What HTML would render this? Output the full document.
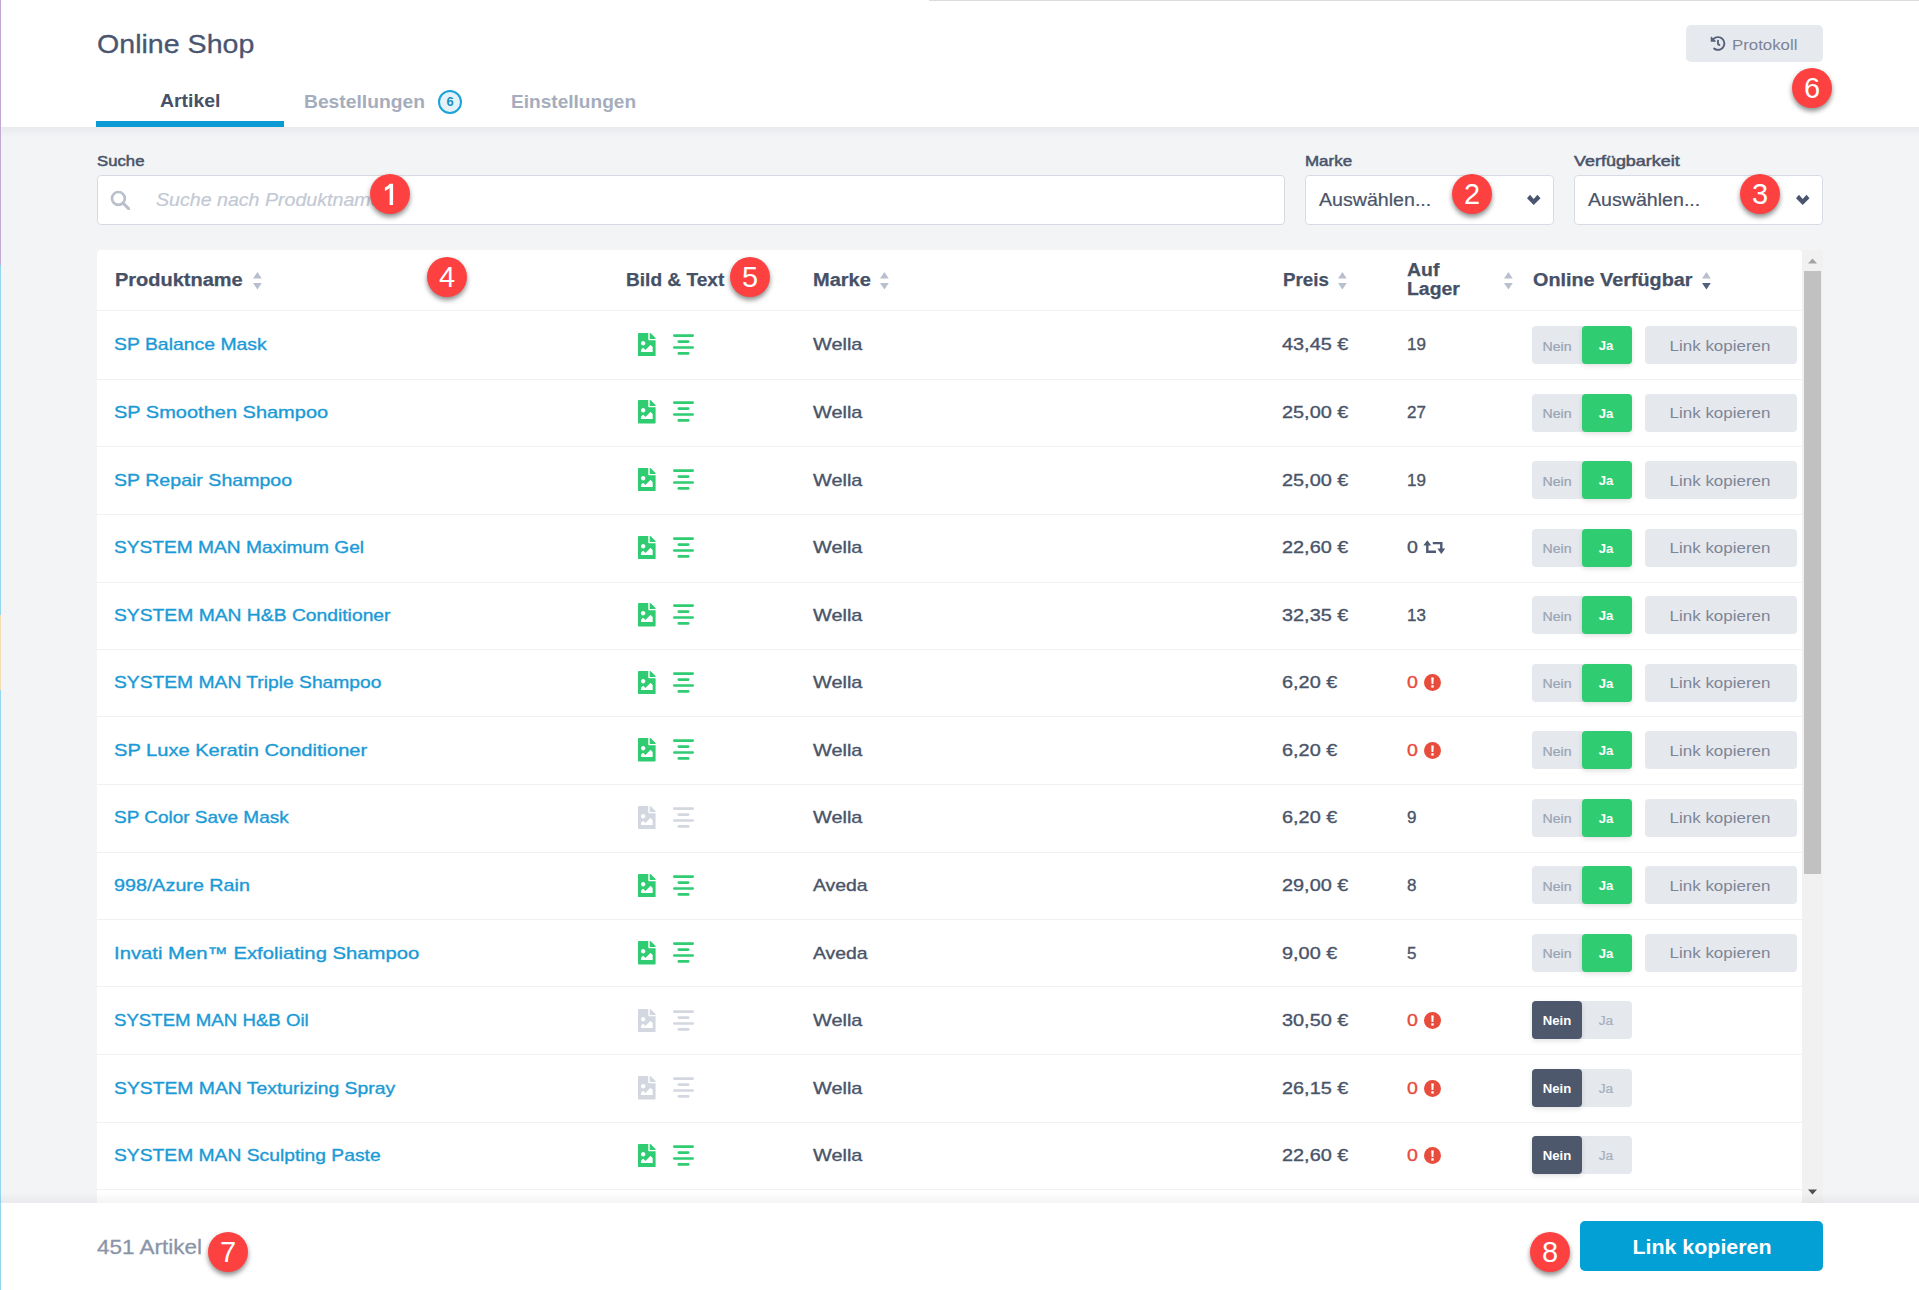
<!DOCTYPE html>
<html><head><meta charset="utf-8"><title>Online Shop</title>
<style>
html,body{margin:0;padding:0}
body{width:1919px;height:1290px;overflow:hidden;position:relative;background:#fff;font-family:"Liberation Sans",sans-serif}
.t{position:absolute;white-space:nowrap}
.r{position:absolute}
.badge{position:absolute;width:40px;height:40px;border-radius:50%;background:#fd4141;color:#fff;font:29px/40px "Liberation Sans",sans-serif;text-align:center;box-shadow:0 3px 5px rgba(0,0,0,0.45)}
</style></head><body>
<div class="r" style="left:0px;top:0px;width:1919px;height:127px;background:#ffffff;"></div>
<div class="r" style="left:0px;top:127px;width:1919px;height:1076px;background:#f3f4f6;"></div>
<div class="r" style="left:0px;top:127px;width:1919px;height:10px;background:linear-gradient(#e9eaed,#f3f4f6);"></div>
<div class="r" style="left:0px;top:1203px;width:1919px;height:87px;background:#ffffff;"></div>
<div class="r" style="left:0px;top:0px;width:1px;height:265px;background:#c2a9d5;"></div>
<div class="r" style="left:0px;top:265px;width:1px;height:350px;background:#94d5f0;"></div>
<div class="r" style="left:0px;top:615px;width:1px;height:75px;background:#f5dcb2;"></div>
<div class="r" style="left:0px;top:690px;width:1px;height:600px;background:#94d5f0;"></div>
<div class="r" style="left:929px;top:0px;width:990px;height:1px;background:#dcdcdc;"></div>
<div class="t" style="left:97px;top:30.69px;font-size:26px;line-height:26px;color:#4a5670;font-weight:normal;font-style:normal;letter-spacing:0px;transform:scaleX(1.1);transform-origin:0 0;-webkit-text-stroke:0.3px #4a5670;">Online Shop</div>
<div class="t" style="left:160px;top:92.46px;font-size:18px;line-height:18px;color:#465066;font-weight:bold;font-style:normal;letter-spacing:0px;transform:scaleX(1.08);transform-origin:0 0;">Artikel</div>
<div class="r" style="left:96px;top:121px;width:188px;height:6px;background:#0a9bd5;"></div>
<div class="t" style="left:303.5px;top:92.56px;font-size:18px;line-height:18px;color:#a5adbd;font-weight:bold;font-style:normal;letter-spacing:0px;transform:scaleX(1.07);transform-origin:0 0;">Bestellungen</div>
<div class="r" style="left:438px;top:90px;width:20px;height:20px;border:2px solid #1ba3d9;border-radius:50%;background:#e4f2f9;font:bold 13px/20px 'Liberation Sans',sans-serif;color:#1b8fc4;text-align:center">6</div>
<div class="t" style="left:511px;top:92.56px;font-size:18px;line-height:18px;color:#a5adbd;font-weight:bold;font-style:normal;letter-spacing:0px;transform:scaleX(1.06);transform-origin:0 0;">Einstellungen</div>
<div class="r" style="left:1686px;top:25px;width:137px;height:37px;background:#e6e9ee;border-radius:5px"></div>
<svg class="r" style="left:1710px;top:36px" width="16" height="15" viewBox="0 0 512 512"><path fill="#55607a" d="M504 255.531c.253 136.64-111.18 248.372-247.82 248.468-59.015.042-113.223-20.53-155.822-54.911-11.077-8.94-11.905-25.541-1.839-35.607l11.267-11.267c8.609-8.609 22.353-9.551 31.891-1.984C173.062 425.135 212.781 440 256 440c101.705 0 184-82.311 184-184 0-101.705-82.311-184-184-184-48.814 0-93.149 18.969-126.068 49.932l50.754 50.754c10.08 10.08 2.941 27.314-11.313 27.314H24c-8.837 0-16-7.163-16-16V38.627c0-14.254 17.234-21.393 27.314-11.314l49.372 49.372C129.209 34.136 189.552 8 256 8c136.81 0 247.747 110.78 248 247.531zm-180.912 78.784l9.823-12.63c8.138-10.463 6.253-25.542-4.21-33.679L288 256.349V152c0-13.255-10.745-24-24-24h-16c-13.255 0-24 10.745-24 24v135.651l65.409 50.874c10.463 8.137 25.541 6.253 33.679-4.21z"/></svg>
<div class="t" style="left:1732px;top:36.90px;font-size:15px;line-height:15px;color:#7b8497;font-weight:normal;font-style:normal;letter-spacing:0px;transform:scaleX(1.12);transform-origin:0 0;">Protokoll</div>
<div class="t" style="left:97px;top:154.20px;font-size:14.3px;line-height:14.3px;color:#4a5469;font-weight:normal;font-style:normal;letter-spacing:0px;transform:scaleX(1.17);transform-origin:0 0;-webkit-text-stroke:0.5px #4a5469;">Suche</div>
<div class="r" style="left:97px;top:175px;width:1188px;height:50px;background:#ffffff;border:1px solid #d5dae3;border-radius:4px;box-sizing:border-box"></div>
<svg class="r" style="left:110px;top:190px" width="20" height="20" viewBox="0 0 20 20"><circle cx="8.4" cy="8.4" r="6.4" fill="none" stroke="#b9c0cc" stroke-width="2.7"/><path d="M13.2 13.2 L18.6 18.6" stroke="#b9c0cc" stroke-width="3" stroke-linecap="round"/></svg>
<div class="t" style="left:156px;top:192.49px;font-size:17.5px;line-height:17.5px;color:#c3c9d4;font-weight:normal;font-style:italic;letter-spacing:0px;transform:scaleX(1.12);transform-origin:0 0;-webkit-text-stroke:0.2px #c3c9d4;">Suche nach Produktnamen</div>
<div class="t" style="left:1305px;top:154.10px;font-size:14.3px;line-height:14.3px;color:#4a5469;font-weight:normal;font-style:normal;letter-spacing:0px;transform:scaleX(1.185);transform-origin:0 0;-webkit-text-stroke:0.5px #4a5469;">Marke</div>
<div class="r" style="left:1305px;top:175px;width:249px;height:50px;background:#ffffff;border:1px solid #d7dce4;border-radius:4px;box-sizing:border-box"></div>
<div class="t" style="left:1319px;top:192.19px;font-size:17.5px;line-height:17.5px;color:#4a5469;font-weight:normal;font-style:normal;letter-spacing:0px;transform:scaleX(1.12);transform-origin:0 0;-webkit-text-stroke:0.2px #4a5469;">Auswählen...</div>
<svg class="r" style="left:1526.3px;top:194px" width="16" height="12" viewBox="0 0 16 12"><path d="M1 4.3L4 0.8L7.7 5L11.5 0.8L14.5 4.3L7.7 11Z" fill="#4a5670"/></svg>
<div class="t" style="left:1574px;top:154.10px;font-size:14.3px;line-height:14.3px;color:#4a5469;font-weight:normal;font-style:normal;letter-spacing:0px;transform:scaleX(1.255);transform-origin:0 0;-webkit-text-stroke:0.5px #4a5469;">Verfügbarkeit</div>
<div class="r" style="left:1574px;top:175px;width:249px;height:50px;background:#ffffff;border:1px solid #d7dce4;border-radius:4px;box-sizing:border-box"></div>
<div class="t" style="left:1588px;top:192.19px;font-size:17.5px;line-height:17.5px;color:#4a5469;font-weight:normal;font-style:normal;letter-spacing:0px;transform:scaleX(1.12);transform-origin:0 0;-webkit-text-stroke:0.2px #4a5469;">Auswählen...</div>
<svg class="r" style="left:1795.3px;top:194px" width="16" height="12" viewBox="0 0 16 12"><path d="M1 4.3L4 0.8L7.7 5L11.5 0.8L14.5 4.3L7.7 11Z" fill="#4a5670"/></svg>
<div class="r" style="left:97px;top:250px;width:1705px;height:953px;background:#ffffff;border-radius:4px 4px 0 0"></div>
<div class="r" style="left:1802px;top:250px;width:21px;height:953px;background:#f1f1f1;"></div>
<div class="r" style="left:1804px;top:271px;width:17px;height:603px;background:#c1c1c1;"></div>
<svg class="r" style="left:1808px;top:258px" width="9" height="6" viewBox="0 0 9 6"><path d="M0 5.5 L4.5 0.5 L9 5.5Z" fill="#a3a3a3"/></svg>
<svg class="r" style="left:1808px;top:1188.8px" width="9" height="6" viewBox="0 0 9 6"><path d="M0 0.5 L4.5 5.5 L9 0.5Z" fill="#505050"/></svg>
<div class="t" style="left:115px;top:271.06px;font-size:18px;line-height:18px;color:#465066;font-weight:bold;font-style:normal;letter-spacing:0px;transform:scaleX(1.11);transform-origin:0 0;-webkit-text-stroke:0.25px #465066;">Produktname</div>
<svg class="r" style="left:252.9px;top:272.4px" width="10" height="18" viewBox="0 0 10 18"><path d="M0 6.6 L4.4 0 L8.8 6.6Z" fill="#b9c0cd"/><path d="M0 11.1 L4.4 17.6 L8.8 11.1Z" fill="#b9c0cd"/></svg>
<div class="t" style="left:626px;top:271.06px;font-size:18px;line-height:18px;color:#465066;font-weight:bold;font-style:normal;letter-spacing:0px;transform:scaleX(1.06);transform-origin:0 0;-webkit-text-stroke:0.25px #465066;">Bild &amp; Text</div>
<div class="t" style="left:813px;top:271.06px;font-size:18px;line-height:18px;color:#465066;font-weight:bold;font-style:normal;letter-spacing:0px;transform:scaleX(1.11);transform-origin:0 0;-webkit-text-stroke:0.25px #465066;">Marke</div>
<svg class="r" style="left:879.8px;top:272.4px" width="10" height="18" viewBox="0 0 10 18"><path d="M0 6.6 L4.4 0 L8.8 6.6Z" fill="#b9c0cd"/><path d="M0 11.1 L4.4 17.6 L8.8 11.1Z" fill="#b9c0cd"/></svg>
<div class="t" style="left:1283px;top:271.06px;font-size:18px;line-height:18px;color:#465066;font-weight:bold;font-style:normal;letter-spacing:0px;transform:scaleX(1.04);transform-origin:0 0;-webkit-text-stroke:0.25px #465066;">Preis</div>
<svg class="r" style="left:1337.8px;top:272.4px" width="10" height="18" viewBox="0 0 10 18"><path d="M0 6.6 L4.4 0 L8.8 6.6Z" fill="#b9c0cd"/><path d="M0 11.1 L4.4 17.6 L8.8 11.1Z" fill="#b9c0cd"/></svg>
<div class="t" style="left:1407px;top:260.76px;font-size:18px;line-height:18px;color:#465066;font-weight:bold;font-style:normal;letter-spacing:0px;transform:scaleX(1.08);transform-origin:0 0;-webkit-text-stroke:0.25px #465066;">Auf</div>
<div class="t" style="left:1407px;top:280.36px;font-size:18px;line-height:18px;color:#465066;font-weight:bold;font-style:normal;letter-spacing:0px;transform:scaleX(1.08);transform-origin:0 0;-webkit-text-stroke:0.25px #465066;">Lager</div>
<svg class="r" style="left:1504.4px;top:272.4px" width="10" height="18" viewBox="0 0 10 18"><path d="M0 6.6 L4.4 0 L8.8 6.6Z" fill="#b9c0cd"/><path d="M0 11.1 L4.4 17.6 L8.8 11.1Z" fill="#b9c0cd"/></svg>
<div class="t" style="left:1532.5px;top:271.06px;font-size:18px;line-height:18px;color:#465066;font-weight:bold;font-style:normal;letter-spacing:0px;transform:scaleX(1.1);transform-origin:0 0;-webkit-text-stroke:0.25px #465066;">Online Verfügbar</div>
<svg class="r" style="left:1701.6px;top:272.4px" width="10" height="18" viewBox="0 0 10 18"><path d="M0 6.6 L4.4 0 L8.8 6.6Z" fill="#b9c0cd"/><path d="M0 11.1 L4.4 17.6 L8.8 11.1Z" fill="#55607a"/></svg>
<div class="r" style="left:97px;top:310px;width:1705px;height:1px;background:#f0f1f4;"></div>
<div class="t" style="left:114.2px;top:335.81px;font-size:17px;line-height:17px;color:#1b9ad6;font-weight:normal;font-style:normal;letter-spacing:0px;transform:scaleX(1.1411);transform-origin:0 0;-webkit-text-stroke:0.35px #1b9ad6;">SP Balance Mask</div>
<svg class="r" style="left:638px;top:332.70px" width="17.6" height="23.5" viewBox="0 0 384 512"><path fill="#2fcc71" d="M384 121.941V128H256V0h6.059a24 24 0 0 1 16.97 7.029l97.941 97.941a24.002 24.002 0 0 1 7.03 16.971zM248 160c-13.2 0-24-10.8-24-24V0H24C10.745 0 0 10.745 0 24v464c0 13.255 10.745 24 24 24h336c13.255 0 24-10.745 24-24V160H248zm-135.455 16c26.51 0 48 21.49 48 48s-21.49 48-48 48-48-21.49-48-48 21.491-48 48-48zm208 240h-256l.485-48.485L104.545 328c4.686-4.686 11.799-4.201 16.485.485L160.545 368 264.06 264.485c4.686-4.686 12.284-4.686 16.971 0L320.545 304v112z"/></svg>
<svg class="r" style="left:673px;top:333.80px" width="21" height="21" viewBox="0 0 21 21"><g stroke="#2fcc71" stroke-width="2.6" stroke-linecap="round"><path d="M1.3 1.6H19.7"/><path d="M5.8 7.6H15.2"/><path d="M1.3 13.5H19.7"/><path d="M5.8 19.4H15.2"/></g></svg>
<div class="t" style="left:813px;top:335.81px;font-size:17px;line-height:17px;color:#4a5469;font-weight:normal;font-style:normal;letter-spacing:0px;transform:scaleX(1.17);transform-origin:0 0;-webkit-text-stroke:0.35px #4a5469;">Wella</div>
<div class="t" style="left:1282px;top:335.81px;font-size:17px;line-height:17px;color:#4a5469;font-weight:normal;font-style:normal;letter-spacing:0px;transform:scaleX(1.17);transform-origin:0 0;-webkit-text-stroke:0.35px #4a5469;">43,45 €</div>
<div class="t" style="left:1407px;top:335.81px;font-size:17px;line-height:17px;color:#4a5469;font-weight:normal;font-style:normal;letter-spacing:0px;-webkit-text-stroke:0.35px #4a5469;">19</div>
<div class="r" style="left:1532px;top:326.2px;width:100px;height:38.0px;background:#e5e8ed;border-radius:4px"></div>
<div class="r" style="left:1582px;top:326.2px;width:50px;height:38.0px;background:#2fcc71;border-radius:4px;box-shadow:0 2px 5px rgba(0,0,0,0.12)"></div>
<div class="t" style="left:1457px;width:200px;text-align:center;top:340.62px;font-size:12.5px;line-height:12.5px;color:#9aa3b4;font-weight:normal;font-style:normal;letter-spacing:0px;-webkit-text-stroke:0.2px #9aa3b4;transform:scaleX(1.13);transform-origin:50% 0;">Nein</div>
<div class="t" style="left:1505.8px;width:200px;text-align:center;top:340.42px;font-size:12.5px;line-height:12.5px;color:#ffffff;font-weight:bold;font-style:normal;letter-spacing:0px;transform:scaleX(1.05);transform-origin:50% 0;">Ja</div>
<div class="r" style="left:1645px;top:326.2px;width:152px;height:38.0px;background:#e5e8ed;border-radius:4px"></div>
<div class="t" style="left:1620.3px;width:200px;text-align:center;top:337.90px;font-size:15px;line-height:15px;color:#7d8596;font-weight:normal;font-style:normal;letter-spacing:0px;transform:scaleX(1.13);transform-origin:50% 0;">Link kopieren</div>
<div class="r" style="left:97px;top:379px;width:1705px;height:1px;background:#f0f1f4;"></div>
<div class="t" style="left:114.2px;top:403.98px;font-size:17px;line-height:17px;color:#1b9ad6;font-weight:normal;font-style:normal;letter-spacing:0px;transform:scaleX(1.176);transform-origin:0 0;-webkit-text-stroke:0.35px #1b9ad6;">SP Smoothen Shampoo</div>
<svg class="r" style="left:638px;top:400.30px" width="17.6" height="23.5" viewBox="0 0 384 512"><path fill="#2fcc71" d="M384 121.941V128H256V0h6.059a24 24 0 0 1 16.97 7.029l97.941 97.941a24.002 24.002 0 0 1 7.03 16.971zM248 160c-13.2 0-24-10.8-24-24V0H24C10.745 0 0 10.745 0 24v464c0 13.255 10.745 24 24 24h336c13.255 0 24-10.745 24-24V160H248zm-135.455 16c26.51 0 48 21.49 48 48s-21.49 48-48 48-48-21.49-48-48 21.491-48 48-48zm208 240h-256l.485-48.485L104.545 328c4.686-4.686 11.799-4.201 16.485.485L160.545 368 264.06 264.485c4.686-4.686 12.284-4.686 16.971 0L320.545 304v112z"/></svg>
<svg class="r" style="left:673px;top:401.40px" width="21" height="21" viewBox="0 0 21 21"><g stroke="#2fcc71" stroke-width="2.6" stroke-linecap="round"><path d="M1.3 1.6H19.7"/><path d="M5.8 7.6H15.2"/><path d="M1.3 13.5H19.7"/><path d="M5.8 19.4H15.2"/></g></svg>
<div class="t" style="left:813px;top:403.98px;font-size:17px;line-height:17px;color:#4a5469;font-weight:normal;font-style:normal;letter-spacing:0px;transform:scaleX(1.17);transform-origin:0 0;-webkit-text-stroke:0.35px #4a5469;">Wella</div>
<div class="t" style="left:1282px;top:403.98px;font-size:17px;line-height:17px;color:#4a5469;font-weight:normal;font-style:normal;letter-spacing:0px;transform:scaleX(1.17);transform-origin:0 0;-webkit-text-stroke:0.35px #4a5469;">25,00 €</div>
<div class="t" style="left:1407px;top:403.98px;font-size:17px;line-height:17px;color:#4a5469;font-weight:normal;font-style:normal;letter-spacing:0px;-webkit-text-stroke:0.35px #4a5469;">27</div>
<div class="r" style="left:1532px;top:393.7px;width:100px;height:38.0px;background:#e5e8ed;border-radius:4px"></div>
<div class="r" style="left:1582px;top:393.7px;width:50px;height:38.0px;background:#2fcc71;border-radius:4px;box-shadow:0 2px 5px rgba(0,0,0,0.12)"></div>
<div class="t" style="left:1457px;width:200px;text-align:center;top:408.12px;font-size:12.5px;line-height:12.5px;color:#9aa3b4;font-weight:normal;font-style:normal;letter-spacing:0px;-webkit-text-stroke:0.2px #9aa3b4;transform:scaleX(1.13);transform-origin:50% 0;">Nein</div>
<div class="t" style="left:1505.8px;width:200px;text-align:center;top:407.92px;font-size:12.5px;line-height:12.5px;color:#ffffff;font-weight:bold;font-style:normal;letter-spacing:0px;transform:scaleX(1.05);transform-origin:50% 0;">Ja</div>
<div class="r" style="left:1645px;top:393.7px;width:152px;height:38.0px;background:#e5e8ed;border-radius:4px"></div>
<div class="t" style="left:1620.3px;width:200px;text-align:center;top:405.40px;font-size:15px;line-height:15px;color:#7d8596;font-weight:normal;font-style:normal;letter-spacing:0px;transform:scaleX(1.13);transform-origin:50% 0;">Link kopieren</div>
<div class="r" style="left:97px;top:446px;width:1705px;height:1px;background:#f0f1f4;"></div>
<div class="t" style="left:114.2px;top:471.56px;font-size:17px;line-height:17px;color:#1b9ad6;font-weight:normal;font-style:normal;letter-spacing:0px;transform:scaleX(1.1518);transform-origin:0 0;-webkit-text-stroke:0.35px #1b9ad6;">SP Repair Shampoo</div>
<svg class="r" style="left:638px;top:467.90px" width="17.6" height="23.5" viewBox="0 0 384 512"><path fill="#2fcc71" d="M384 121.941V128H256V0h6.059a24 24 0 0 1 16.97 7.029l97.941 97.941a24.002 24.002 0 0 1 7.03 16.971zM248 160c-13.2 0-24-10.8-24-24V0H24C10.745 0 0 10.745 0 24v464c0 13.255 10.745 24 24 24h336c13.255 0 24-10.745 24-24V160H248zm-135.455 16c26.51 0 48 21.49 48 48s-21.49 48-48 48-48-21.49-48-48 21.491-48 48-48zm208 240h-256l.485-48.485L104.545 328c4.686-4.686 11.799-4.201 16.485.485L160.545 368 264.06 264.485c4.686-4.686 12.284-4.686 16.971 0L320.545 304v112z"/></svg>
<svg class="r" style="left:673px;top:469.00px" width="21" height="21" viewBox="0 0 21 21"><g stroke="#2fcc71" stroke-width="2.6" stroke-linecap="round"><path d="M1.3 1.6H19.7"/><path d="M5.8 7.6H15.2"/><path d="M1.3 13.5H19.7"/><path d="M5.8 19.4H15.2"/></g></svg>
<div class="t" style="left:813px;top:471.56px;font-size:17px;line-height:17px;color:#4a5469;font-weight:normal;font-style:normal;letter-spacing:0px;transform:scaleX(1.17);transform-origin:0 0;-webkit-text-stroke:0.35px #4a5469;">Wella</div>
<div class="t" style="left:1282px;top:471.56px;font-size:17px;line-height:17px;color:#4a5469;font-weight:normal;font-style:normal;letter-spacing:0px;transform:scaleX(1.17);transform-origin:0 0;-webkit-text-stroke:0.35px #4a5469;">25,00 €</div>
<div class="t" style="left:1407px;top:471.56px;font-size:17px;line-height:17px;color:#4a5469;font-weight:normal;font-style:normal;letter-spacing:0px;-webkit-text-stroke:0.35px #4a5469;">19</div>
<div class="r" style="left:1532px;top:461.2px;width:100px;height:38.0px;background:#e5e8ed;border-radius:4px"></div>
<div class="r" style="left:1582px;top:461.2px;width:50px;height:38.0px;background:#2fcc71;border-radius:4px;box-shadow:0 2px 5px rgba(0,0,0,0.12)"></div>
<div class="t" style="left:1457px;width:200px;text-align:center;top:475.62px;font-size:12.5px;line-height:12.5px;color:#9aa3b4;font-weight:normal;font-style:normal;letter-spacing:0px;-webkit-text-stroke:0.2px #9aa3b4;transform:scaleX(1.13);transform-origin:50% 0;">Nein</div>
<div class="t" style="left:1505.8px;width:200px;text-align:center;top:475.42px;font-size:12.5px;line-height:12.5px;color:#ffffff;font-weight:bold;font-style:normal;letter-spacing:0px;transform:scaleX(1.05);transform-origin:50% 0;">Ja</div>
<div class="r" style="left:1645px;top:461.2px;width:152px;height:38.0px;background:#e5e8ed;border-radius:4px"></div>
<div class="t" style="left:1620.3px;width:200px;text-align:center;top:472.90px;font-size:15px;line-height:15px;color:#7d8596;font-weight:normal;font-style:normal;letter-spacing:0px;transform:scaleX(1.13);transform-origin:50% 0;">Link kopieren</div>
<div class="r" style="left:97px;top:514px;width:1705px;height:1px;background:#f0f1f4;"></div>
<div class="t" style="left:114.2px;top:539.13px;font-size:17px;line-height:17px;color:#1b9ad6;font-weight:normal;font-style:normal;letter-spacing:0px;transform:scaleX(1.1267);transform-origin:0 0;-webkit-text-stroke:0.35px #1b9ad6;">SYSTEM MAN Maximum Gel</div>
<svg class="r" style="left:638px;top:535.50px" width="17.6" height="23.5" viewBox="0 0 384 512"><path fill="#2fcc71" d="M384 121.941V128H256V0h6.059a24 24 0 0 1 16.97 7.029l97.941 97.941a24.002 24.002 0 0 1 7.03 16.971zM248 160c-13.2 0-24-10.8-24-24V0H24C10.745 0 0 10.745 0 24v464c0 13.255 10.745 24 24 24h336c13.255 0 24-10.745 24-24V160H248zm-135.455 16c26.51 0 48 21.49 48 48s-21.49 48-48 48-48-21.49-48-48 21.491-48 48-48zm208 240h-256l.485-48.485L104.545 328c4.686-4.686 11.799-4.201 16.485.485L160.545 368 264.06 264.485c4.686-4.686 12.284-4.686 16.971 0L320.545 304v112z"/></svg>
<svg class="r" style="left:673px;top:536.60px" width="21" height="21" viewBox="0 0 21 21"><g stroke="#2fcc71" stroke-width="2.6" stroke-linecap="round"><path d="M1.3 1.6H19.7"/><path d="M5.8 7.6H15.2"/><path d="M1.3 13.5H19.7"/><path d="M5.8 19.4H15.2"/></g></svg>
<div class="t" style="left:813px;top:539.13px;font-size:17px;line-height:17px;color:#4a5469;font-weight:normal;font-style:normal;letter-spacing:0px;transform:scaleX(1.17);transform-origin:0 0;-webkit-text-stroke:0.35px #4a5469;">Wella</div>
<div class="t" style="left:1282px;top:539.13px;font-size:17px;line-height:17px;color:#4a5469;font-weight:normal;font-style:normal;letter-spacing:0px;transform:scaleX(1.17);transform-origin:0 0;-webkit-text-stroke:0.35px #4a5469;">22,60 €</div>
<div class="t" style="left:1407px;top:539.13px;font-size:17px;line-height:17px;color:#4a5469;font-weight:normal;font-style:normal;letter-spacing:0px;transform:scaleX(1.15);transform-origin:0 0;-webkit-text-stroke:0.35px #4a5469;">0</div>
<svg class="r" style="left:1423px;top:540.30px" width="23" height="14" viewBox="0 0 23 14"><g fill="none" stroke="#4f5b73" stroke-width="2.4"><path d="M4.3 4V11.7H13"/><path d="M9.8 3.1H18.3V9.5"/></g><path d="M0.3 5.6L4.3 0.2L8.3 5.6Z" fill="#4f5b73"/><path d="M14.3 8.6L18.3 14L22.3 8.6Z" fill="#4f5b73"/></svg>
<div class="r" style="left:1532px;top:528.7px;width:100px;height:38.0px;background:#e5e8ed;border-radius:4px"></div>
<div class="r" style="left:1582px;top:528.7px;width:50px;height:38.0px;background:#2fcc71;border-radius:4px;box-shadow:0 2px 5px rgba(0,0,0,0.12)"></div>
<div class="t" style="left:1457px;width:200px;text-align:center;top:543.12px;font-size:12.5px;line-height:12.5px;color:#9aa3b4;font-weight:normal;font-style:normal;letter-spacing:0px;-webkit-text-stroke:0.2px #9aa3b4;transform:scaleX(1.13);transform-origin:50% 0;">Nein</div>
<div class="t" style="left:1505.8px;width:200px;text-align:center;top:542.92px;font-size:12.5px;line-height:12.5px;color:#ffffff;font-weight:bold;font-style:normal;letter-spacing:0px;transform:scaleX(1.05);transform-origin:50% 0;">Ja</div>
<div class="r" style="left:1645px;top:528.7px;width:152px;height:38.0px;background:#e5e8ed;border-radius:4px"></div>
<div class="t" style="left:1620.3px;width:200px;text-align:center;top:540.40px;font-size:15px;line-height:15px;color:#7d8596;font-weight:normal;font-style:normal;letter-spacing:0px;transform:scaleX(1.13);transform-origin:50% 0;">Link kopieren</div>
<div class="r" style="left:97px;top:582px;width:1705px;height:1px;background:#f0f1f4;"></div>
<div class="t" style="left:114.2px;top:606.71px;font-size:17px;line-height:17px;color:#1b9ad6;font-weight:normal;font-style:normal;letter-spacing:0px;transform:scaleX(1.1344);transform-origin:0 0;-webkit-text-stroke:0.35px #1b9ad6;">SYSTEM MAN H&amp;B Conditioner</div>
<svg class="r" style="left:638px;top:603.10px" width="17.6" height="23.5" viewBox="0 0 384 512"><path fill="#2fcc71" d="M384 121.941V128H256V0h6.059a24 24 0 0 1 16.97 7.029l97.941 97.941a24.002 24.002 0 0 1 7.03 16.971zM248 160c-13.2 0-24-10.8-24-24V0H24C10.745 0 0 10.745 0 24v464c0 13.255 10.745 24 24 24h336c13.255 0 24-10.745 24-24V160H248zm-135.455 16c26.51 0 48 21.49 48 48s-21.49 48-48 48-48-21.49-48-48 21.491-48 48-48zm208 240h-256l.485-48.485L104.545 328c4.686-4.686 11.799-4.201 16.485.485L160.545 368 264.06 264.485c4.686-4.686 12.284-4.686 16.971 0L320.545 304v112z"/></svg>
<svg class="r" style="left:673px;top:604.20px" width="21" height="21" viewBox="0 0 21 21"><g stroke="#2fcc71" stroke-width="2.6" stroke-linecap="round"><path d="M1.3 1.6H19.7"/><path d="M5.8 7.6H15.2"/><path d="M1.3 13.5H19.7"/><path d="M5.8 19.4H15.2"/></g></svg>
<div class="t" style="left:813px;top:606.71px;font-size:17px;line-height:17px;color:#4a5469;font-weight:normal;font-style:normal;letter-spacing:0px;transform:scaleX(1.17);transform-origin:0 0;-webkit-text-stroke:0.35px #4a5469;">Wella</div>
<div class="t" style="left:1282px;top:606.71px;font-size:17px;line-height:17px;color:#4a5469;font-weight:normal;font-style:normal;letter-spacing:0px;transform:scaleX(1.17);transform-origin:0 0;-webkit-text-stroke:0.35px #4a5469;">32,35 €</div>
<div class="t" style="left:1407px;top:606.71px;font-size:17px;line-height:17px;color:#4a5469;font-weight:normal;font-style:normal;letter-spacing:0px;-webkit-text-stroke:0.35px #4a5469;">13</div>
<div class="r" style="left:1532px;top:596.2px;width:100px;height:38.0px;background:#e5e8ed;border-radius:4px"></div>
<div class="r" style="left:1582px;top:596.2px;width:50px;height:38.0px;background:#2fcc71;border-radius:4px;box-shadow:0 2px 5px rgba(0,0,0,0.12)"></div>
<div class="t" style="left:1457px;width:200px;text-align:center;top:610.62px;font-size:12.5px;line-height:12.5px;color:#9aa3b4;font-weight:normal;font-style:normal;letter-spacing:0px;-webkit-text-stroke:0.2px #9aa3b4;transform:scaleX(1.13);transform-origin:50% 0;">Nein</div>
<div class="t" style="left:1505.8px;width:200px;text-align:center;top:610.42px;font-size:12.5px;line-height:12.5px;color:#ffffff;font-weight:bold;font-style:normal;letter-spacing:0px;transform:scaleX(1.05);transform-origin:50% 0;">Ja</div>
<div class="r" style="left:1645px;top:596.2px;width:152px;height:38.0px;background:#e5e8ed;border-radius:4px"></div>
<div class="t" style="left:1620.3px;width:200px;text-align:center;top:607.90px;font-size:15px;line-height:15px;color:#7d8596;font-weight:normal;font-style:normal;letter-spacing:0px;transform:scaleX(1.13);transform-origin:50% 0;">Link kopieren</div>
<div class="r" style="left:97px;top:649px;width:1705px;height:1px;background:#f0f1f4;"></div>
<div class="t" style="left:114.2px;top:674.28px;font-size:17px;line-height:17px;color:#1b9ad6;font-weight:normal;font-style:normal;letter-spacing:0px;transform:scaleX(1.1324);transform-origin:0 0;-webkit-text-stroke:0.35px #1b9ad6;">SYSTEM MAN Triple Shampoo</div>
<svg class="r" style="left:638px;top:670.70px" width="17.6" height="23.5" viewBox="0 0 384 512"><path fill="#2fcc71" d="M384 121.941V128H256V0h6.059a24 24 0 0 1 16.97 7.029l97.941 97.941a24.002 24.002 0 0 1 7.03 16.971zM248 160c-13.2 0-24-10.8-24-24V0H24C10.745 0 0 10.745 0 24v464c0 13.255 10.745 24 24 24h336c13.255 0 24-10.745 24-24V160H248zm-135.455 16c26.51 0 48 21.49 48 48s-21.49 48-48 48-48-21.49-48-48 21.491-48 48-48zm208 240h-256l.485-48.485L104.545 328c4.686-4.686 11.799-4.201 16.485.485L160.545 368 264.06 264.485c4.686-4.686 12.284-4.686 16.971 0L320.545 304v112z"/></svg>
<svg class="r" style="left:673px;top:671.80px" width="21" height="21" viewBox="0 0 21 21"><g stroke="#2fcc71" stroke-width="2.6" stroke-linecap="round"><path d="M1.3 1.6H19.7"/><path d="M5.8 7.6H15.2"/><path d="M1.3 13.5H19.7"/><path d="M5.8 19.4H15.2"/></g></svg>
<div class="t" style="left:813px;top:674.28px;font-size:17px;line-height:17px;color:#4a5469;font-weight:normal;font-style:normal;letter-spacing:0px;transform:scaleX(1.17);transform-origin:0 0;-webkit-text-stroke:0.35px #4a5469;">Wella</div>
<div class="t" style="left:1282px;top:674.28px;font-size:17px;line-height:17px;color:#4a5469;font-weight:normal;font-style:normal;letter-spacing:0px;transform:scaleX(1.17);transform-origin:0 0;-webkit-text-stroke:0.35px #4a5469;">6,20 €</div>
<div class="t" style="left:1407px;top:674.28px;font-size:17px;line-height:17px;color:#e74c3c;font-weight:normal;font-style:normal;letter-spacing:0px;transform:scaleX(1.15);transform-origin:0 0;-webkit-text-stroke:0.35px #e74c3c;">0</div>
<svg class="r" style="left:1423.5px;top:674.00px" width="17" height="17" viewBox="0 0 17 17"><circle cx="8.5" cy="8.5" r="8.5" fill="#e74c3c"/><path d="M7.2 3.5H9.8L9.4 10H7.6Z" fill="#fff"/><rect x="7.3" y="11.2" width="2.4" height="2.4" fill="#fff"/></svg>
<div class="r" style="left:1532px;top:663.7px;width:100px;height:38.0px;background:#e5e8ed;border-radius:4px"></div>
<div class="r" style="left:1582px;top:663.7px;width:50px;height:38.0px;background:#2fcc71;border-radius:4px;box-shadow:0 2px 5px rgba(0,0,0,0.12)"></div>
<div class="t" style="left:1457px;width:200px;text-align:center;top:678.12px;font-size:12.5px;line-height:12.5px;color:#9aa3b4;font-weight:normal;font-style:normal;letter-spacing:0px;-webkit-text-stroke:0.2px #9aa3b4;transform:scaleX(1.13);transform-origin:50% 0;">Nein</div>
<div class="t" style="left:1505.8px;width:200px;text-align:center;top:677.92px;font-size:12.5px;line-height:12.5px;color:#ffffff;font-weight:bold;font-style:normal;letter-spacing:0px;transform:scaleX(1.05);transform-origin:50% 0;">Ja</div>
<div class="r" style="left:1645px;top:663.7px;width:152px;height:38.0px;background:#e5e8ed;border-radius:4px"></div>
<div class="t" style="left:1620.3px;width:200px;text-align:center;top:675.40px;font-size:15px;line-height:15px;color:#7d8596;font-weight:normal;font-style:normal;letter-spacing:0px;transform:scaleX(1.13);transform-origin:50% 0;">Link kopieren</div>
<div class="r" style="left:97px;top:716px;width:1705px;height:1px;background:#f0f1f4;"></div>
<div class="t" style="left:114.2px;top:741.86px;font-size:17px;line-height:17px;color:#1b9ad6;font-weight:normal;font-style:normal;letter-spacing:0px;transform:scaleX(1.1822);transform-origin:0 0;-webkit-text-stroke:0.35px #1b9ad6;">SP Luxe Keratin Conditioner</div>
<svg class="r" style="left:638px;top:738.30px" width="17.6" height="23.5" viewBox="0 0 384 512"><path fill="#2fcc71" d="M384 121.941V128H256V0h6.059a24 24 0 0 1 16.97 7.029l97.941 97.941a24.002 24.002 0 0 1 7.03 16.971zM248 160c-13.2 0-24-10.8-24-24V0H24C10.745 0 0 10.745 0 24v464c0 13.255 10.745 24 24 24h336c13.255 0 24-10.745 24-24V160H248zm-135.455 16c26.51 0 48 21.49 48 48s-21.49 48-48 48-48-21.49-48-48 21.491-48 48-48zm208 240h-256l.485-48.485L104.545 328c4.686-4.686 11.799-4.201 16.485.485L160.545 368 264.06 264.485c4.686-4.686 12.284-4.686 16.971 0L320.545 304v112z"/></svg>
<svg class="r" style="left:673px;top:739.40px" width="21" height="21" viewBox="0 0 21 21"><g stroke="#2fcc71" stroke-width="2.6" stroke-linecap="round"><path d="M1.3 1.6H19.7"/><path d="M5.8 7.6H15.2"/><path d="M1.3 13.5H19.7"/><path d="M5.8 19.4H15.2"/></g></svg>
<div class="t" style="left:813px;top:741.86px;font-size:17px;line-height:17px;color:#4a5469;font-weight:normal;font-style:normal;letter-spacing:0px;transform:scaleX(1.17);transform-origin:0 0;-webkit-text-stroke:0.35px #4a5469;">Wella</div>
<div class="t" style="left:1282px;top:741.86px;font-size:17px;line-height:17px;color:#4a5469;font-weight:normal;font-style:normal;letter-spacing:0px;transform:scaleX(1.17);transform-origin:0 0;-webkit-text-stroke:0.35px #4a5469;">6,20 €</div>
<div class="t" style="left:1407px;top:741.86px;font-size:17px;line-height:17px;color:#e74c3c;font-weight:normal;font-style:normal;letter-spacing:0px;transform:scaleX(1.15);transform-origin:0 0;-webkit-text-stroke:0.35px #e74c3c;">0</div>
<svg class="r" style="left:1423.5px;top:741.60px" width="17" height="17" viewBox="0 0 17 17"><circle cx="8.5" cy="8.5" r="8.5" fill="#e74c3c"/><path d="M7.2 3.5H9.8L9.4 10H7.6Z" fill="#fff"/><rect x="7.3" y="11.2" width="2.4" height="2.4" fill="#fff"/></svg>
<div class="r" style="left:1532px;top:731.2px;width:100px;height:38.0px;background:#e5e8ed;border-radius:4px"></div>
<div class="r" style="left:1582px;top:731.2px;width:50px;height:38.0px;background:#2fcc71;border-radius:4px;box-shadow:0 2px 5px rgba(0,0,0,0.12)"></div>
<div class="t" style="left:1457px;width:200px;text-align:center;top:745.62px;font-size:12.5px;line-height:12.5px;color:#9aa3b4;font-weight:normal;font-style:normal;letter-spacing:0px;-webkit-text-stroke:0.2px #9aa3b4;transform:scaleX(1.13);transform-origin:50% 0;">Nein</div>
<div class="t" style="left:1505.8px;width:200px;text-align:center;top:745.42px;font-size:12.5px;line-height:12.5px;color:#ffffff;font-weight:bold;font-style:normal;letter-spacing:0px;transform:scaleX(1.05);transform-origin:50% 0;">Ja</div>
<div class="r" style="left:1645px;top:731.2px;width:152px;height:38.0px;background:#e5e8ed;border-radius:4px"></div>
<div class="t" style="left:1620.3px;width:200px;text-align:center;top:742.90px;font-size:15px;line-height:15px;color:#7d8596;font-weight:normal;font-style:normal;letter-spacing:0px;transform:scaleX(1.13);transform-origin:50% 0;">Link kopieren</div>
<div class="r" style="left:97px;top:784px;width:1705px;height:1px;background:#f0f1f4;"></div>
<div class="t" style="left:114.2px;top:809.43px;font-size:17px;line-height:17px;color:#1b9ad6;font-weight:normal;font-style:normal;letter-spacing:0px;transform:scaleX(1.1158);transform-origin:0 0;-webkit-text-stroke:0.35px #1b9ad6;">SP Color Save Mask</div>
<svg class="r" style="left:638px;top:805.90px" width="17.6" height="23.5" viewBox="0 0 384 512"><path fill="#d3d8e0" d="M384 121.941V128H256V0h6.059a24 24 0 0 1 16.97 7.029l97.941 97.941a24.002 24.002 0 0 1 7.03 16.971zM248 160c-13.2 0-24-10.8-24-24V0H24C10.745 0 0 10.745 0 24v464c0 13.255 10.745 24 24 24h336c13.255 0 24-10.745 24-24V160H248zm-135.455 16c26.51 0 48 21.49 48 48s-21.49 48-48 48-48-21.49-48-48 21.491-48 48-48zm208 240h-256l.485-48.485L104.545 328c4.686-4.686 11.799-4.201 16.485.485L160.545 368 264.06 264.485c4.686-4.686 12.284-4.686 16.971 0L320.545 304v112z"/></svg>
<svg class="r" style="left:673px;top:807.00px" width="21" height="21" viewBox="0 0 21 21"><g stroke="#d3d8e0" stroke-width="2.6" stroke-linecap="round"><path d="M1.3 1.6H19.7"/><path d="M5.8 7.6H15.2"/><path d="M1.3 13.5H19.7"/><path d="M5.8 19.4H15.2"/></g></svg>
<div class="t" style="left:813px;top:809.43px;font-size:17px;line-height:17px;color:#4a5469;font-weight:normal;font-style:normal;letter-spacing:0px;transform:scaleX(1.17);transform-origin:0 0;-webkit-text-stroke:0.35px #4a5469;">Wella</div>
<div class="t" style="left:1282px;top:809.43px;font-size:17px;line-height:17px;color:#4a5469;font-weight:normal;font-style:normal;letter-spacing:0px;transform:scaleX(1.17);transform-origin:0 0;-webkit-text-stroke:0.35px #4a5469;">6,20 €</div>
<div class="t" style="left:1407px;top:809.43px;font-size:17px;line-height:17px;color:#4a5469;font-weight:normal;font-style:normal;letter-spacing:0px;-webkit-text-stroke:0.35px #4a5469;">9</div>
<div class="r" style="left:1532px;top:798.7px;width:100px;height:38.0px;background:#e5e8ed;border-radius:4px"></div>
<div class="r" style="left:1582px;top:798.7px;width:50px;height:38.0px;background:#2fcc71;border-radius:4px;box-shadow:0 2px 5px rgba(0,0,0,0.12)"></div>
<div class="t" style="left:1457px;width:200px;text-align:center;top:813.12px;font-size:12.5px;line-height:12.5px;color:#9aa3b4;font-weight:normal;font-style:normal;letter-spacing:0px;-webkit-text-stroke:0.2px #9aa3b4;transform:scaleX(1.13);transform-origin:50% 0;">Nein</div>
<div class="t" style="left:1505.8px;width:200px;text-align:center;top:812.92px;font-size:12.5px;line-height:12.5px;color:#ffffff;font-weight:bold;font-style:normal;letter-spacing:0px;transform:scaleX(1.05);transform-origin:50% 0;">Ja</div>
<div class="r" style="left:1645px;top:798.7px;width:152px;height:38.0px;background:#e5e8ed;border-radius:4px"></div>
<div class="t" style="left:1620.3px;width:200px;text-align:center;top:810.40px;font-size:15px;line-height:15px;color:#7d8596;font-weight:normal;font-style:normal;letter-spacing:0px;transform:scaleX(1.13);transform-origin:50% 0;">Link kopieren</div>
<div class="r" style="left:97px;top:852px;width:1705px;height:1px;background:#f0f1f4;"></div>
<div class="t" style="left:114.2px;top:877.01px;font-size:17px;line-height:17px;color:#1b9ad6;font-weight:normal;font-style:normal;letter-spacing:0px;transform:scaleX(1.1597);transform-origin:0 0;-webkit-text-stroke:0.35px #1b9ad6;">998/Azure Rain</div>
<svg class="r" style="left:638px;top:873.50px" width="17.6" height="23.5" viewBox="0 0 384 512"><path fill="#2fcc71" d="M384 121.941V128H256V0h6.059a24 24 0 0 1 16.97 7.029l97.941 97.941a24.002 24.002 0 0 1 7.03 16.971zM248 160c-13.2 0-24-10.8-24-24V0H24C10.745 0 0 10.745 0 24v464c0 13.255 10.745 24 24 24h336c13.255 0 24-10.745 24-24V160H248zm-135.455 16c26.51 0 48 21.49 48 48s-21.49 48-48 48-48-21.49-48-48 21.491-48 48-48zm208 240h-256l.485-48.485L104.545 328c4.686-4.686 11.799-4.201 16.485.485L160.545 368 264.06 264.485c4.686-4.686 12.284-4.686 16.971 0L320.545 304v112z"/></svg>
<svg class="r" style="left:673px;top:874.60px" width="21" height="21" viewBox="0 0 21 21"><g stroke="#2fcc71" stroke-width="2.6" stroke-linecap="round"><path d="M1.3 1.6H19.7"/><path d="M5.8 7.6H15.2"/><path d="M1.3 13.5H19.7"/><path d="M5.8 19.4H15.2"/></g></svg>
<div class="t" style="left:813px;top:877.01px;font-size:17px;line-height:17px;color:#4a5469;font-weight:normal;font-style:normal;letter-spacing:0px;transform:scaleX(1.14);transform-origin:0 0;-webkit-text-stroke:0.35px #4a5469;">Aveda</div>
<div class="t" style="left:1282px;top:877.01px;font-size:17px;line-height:17px;color:#4a5469;font-weight:normal;font-style:normal;letter-spacing:0px;transform:scaleX(1.17);transform-origin:0 0;-webkit-text-stroke:0.35px #4a5469;">29,00 €</div>
<div class="t" style="left:1407px;top:877.01px;font-size:17px;line-height:17px;color:#4a5469;font-weight:normal;font-style:normal;letter-spacing:0px;-webkit-text-stroke:0.35px #4a5469;">8</div>
<div class="r" style="left:1532px;top:866.2px;width:100px;height:38.0px;background:#e5e8ed;border-radius:4px"></div>
<div class="r" style="left:1582px;top:866.2px;width:50px;height:38.0px;background:#2fcc71;border-radius:4px;box-shadow:0 2px 5px rgba(0,0,0,0.12)"></div>
<div class="t" style="left:1457px;width:200px;text-align:center;top:880.62px;font-size:12.5px;line-height:12.5px;color:#9aa3b4;font-weight:normal;font-style:normal;letter-spacing:0px;-webkit-text-stroke:0.2px #9aa3b4;transform:scaleX(1.13);transform-origin:50% 0;">Nein</div>
<div class="t" style="left:1505.8px;width:200px;text-align:center;top:880.42px;font-size:12.5px;line-height:12.5px;color:#ffffff;font-weight:bold;font-style:normal;letter-spacing:0px;transform:scaleX(1.05);transform-origin:50% 0;">Ja</div>
<div class="r" style="left:1645px;top:866.2px;width:152px;height:38.0px;background:#e5e8ed;border-radius:4px"></div>
<div class="t" style="left:1620.3px;width:200px;text-align:center;top:877.90px;font-size:15px;line-height:15px;color:#7d8596;font-weight:normal;font-style:normal;letter-spacing:0px;transform:scaleX(1.13);transform-origin:50% 0;">Link kopieren</div>
<div class="r" style="left:97px;top:919px;width:1705px;height:1px;background:#f0f1f4;"></div>
<div class="t" style="left:114.2px;top:944.58px;font-size:17px;line-height:17px;color:#1b9ad6;font-weight:normal;font-style:normal;letter-spacing:0px;transform:scaleX(1.1922);transform-origin:0 0;-webkit-text-stroke:0.35px #1b9ad6;">Invati Men™ Exfoliating Shampoo</div>
<svg class="r" style="left:638px;top:941.10px" width="17.6" height="23.5" viewBox="0 0 384 512"><path fill="#2fcc71" d="M384 121.941V128H256V0h6.059a24 24 0 0 1 16.97 7.029l97.941 97.941a24.002 24.002 0 0 1 7.03 16.971zM248 160c-13.2 0-24-10.8-24-24V0H24C10.745 0 0 10.745 0 24v464c0 13.255 10.745 24 24 24h336c13.255 0 24-10.745 24-24V160H248zm-135.455 16c26.51 0 48 21.49 48 48s-21.49 48-48 48-48-21.49-48-48 21.491-48 48-48zm208 240h-256l.485-48.485L104.545 328c4.686-4.686 11.799-4.201 16.485.485L160.545 368 264.06 264.485c4.686-4.686 12.284-4.686 16.971 0L320.545 304v112z"/></svg>
<svg class="r" style="left:673px;top:942.20px" width="21" height="21" viewBox="0 0 21 21"><g stroke="#2fcc71" stroke-width="2.6" stroke-linecap="round"><path d="M1.3 1.6H19.7"/><path d="M5.8 7.6H15.2"/><path d="M1.3 13.5H19.7"/><path d="M5.8 19.4H15.2"/></g></svg>
<div class="t" style="left:813px;top:944.58px;font-size:17px;line-height:17px;color:#4a5469;font-weight:normal;font-style:normal;letter-spacing:0px;transform:scaleX(1.14);transform-origin:0 0;-webkit-text-stroke:0.35px #4a5469;">Aveda</div>
<div class="t" style="left:1282px;top:944.58px;font-size:17px;line-height:17px;color:#4a5469;font-weight:normal;font-style:normal;letter-spacing:0px;transform:scaleX(1.17);transform-origin:0 0;-webkit-text-stroke:0.35px #4a5469;">9,00 €</div>
<div class="t" style="left:1407px;top:944.58px;font-size:17px;line-height:17px;color:#4a5469;font-weight:normal;font-style:normal;letter-spacing:0px;-webkit-text-stroke:0.35px #4a5469;">5</div>
<div class="r" style="left:1532px;top:933.7px;width:100px;height:38.0px;background:#e5e8ed;border-radius:4px"></div>
<div class="r" style="left:1582px;top:933.7px;width:50px;height:38.0px;background:#2fcc71;border-radius:4px;box-shadow:0 2px 5px rgba(0,0,0,0.12)"></div>
<div class="t" style="left:1457px;width:200px;text-align:center;top:948.12px;font-size:12.5px;line-height:12.5px;color:#9aa3b4;font-weight:normal;font-style:normal;letter-spacing:0px;-webkit-text-stroke:0.2px #9aa3b4;transform:scaleX(1.13);transform-origin:50% 0;">Nein</div>
<div class="t" style="left:1505.8px;width:200px;text-align:center;top:947.92px;font-size:12.5px;line-height:12.5px;color:#ffffff;font-weight:bold;font-style:normal;letter-spacing:0px;transform:scaleX(1.05);transform-origin:50% 0;">Ja</div>
<div class="r" style="left:1645px;top:933.7px;width:152px;height:38.0px;background:#e5e8ed;border-radius:4px"></div>
<div class="t" style="left:1620.3px;width:200px;text-align:center;top:945.40px;font-size:15px;line-height:15px;color:#7d8596;font-weight:normal;font-style:normal;letter-spacing:0px;transform:scaleX(1.13);transform-origin:50% 0;">Link kopieren</div>
<div class="r" style="left:97px;top:986px;width:1705px;height:1px;background:#f0f1f4;"></div>
<div class="t" style="left:114.2px;top:1012.16px;font-size:17px;line-height:17px;color:#1b9ad6;font-weight:normal;font-style:normal;letter-spacing:0px;transform:scaleX(1.0964);transform-origin:0 0;-webkit-text-stroke:0.35px #1b9ad6;">SYSTEM MAN H&amp;B Oil</div>
<svg class="r" style="left:638px;top:1008.70px" width="17.6" height="23.5" viewBox="0 0 384 512"><path fill="#d3d8e0" d="M384 121.941V128H256V0h6.059a24 24 0 0 1 16.97 7.029l97.941 97.941a24.002 24.002 0 0 1 7.03 16.971zM248 160c-13.2 0-24-10.8-24-24V0H24C10.745 0 0 10.745 0 24v464c0 13.255 10.745 24 24 24h336c13.255 0 24-10.745 24-24V160H248zm-135.455 16c26.51 0 48 21.49 48 48s-21.49 48-48 48-48-21.49-48-48 21.491-48 48-48zm208 240h-256l.485-48.485L104.545 328c4.686-4.686 11.799-4.201 16.485.485L160.545 368 264.06 264.485c4.686-4.686 12.284-4.686 16.971 0L320.545 304v112z"/></svg>
<svg class="r" style="left:673px;top:1009.80px" width="21" height="21" viewBox="0 0 21 21"><g stroke="#d3d8e0" stroke-width="2.6" stroke-linecap="round"><path d="M1.3 1.6H19.7"/><path d="M5.8 7.6H15.2"/><path d="M1.3 13.5H19.7"/><path d="M5.8 19.4H15.2"/></g></svg>
<div class="t" style="left:813px;top:1012.16px;font-size:17px;line-height:17px;color:#4a5469;font-weight:normal;font-style:normal;letter-spacing:0px;transform:scaleX(1.17);transform-origin:0 0;-webkit-text-stroke:0.35px #4a5469;">Wella</div>
<div class="t" style="left:1282px;top:1012.16px;font-size:17px;line-height:17px;color:#4a5469;font-weight:normal;font-style:normal;letter-spacing:0px;transform:scaleX(1.17);transform-origin:0 0;-webkit-text-stroke:0.35px #4a5469;">30,50 €</div>
<div class="t" style="left:1407px;top:1012.16px;font-size:17px;line-height:17px;color:#e74c3c;font-weight:normal;font-style:normal;letter-spacing:0px;transform:scaleX(1.15);transform-origin:0 0;-webkit-text-stroke:0.35px #e74c3c;">0</div>
<svg class="r" style="left:1423.5px;top:1012.00px" width="17" height="17" viewBox="0 0 17 17"><circle cx="8.5" cy="8.5" r="8.5" fill="#e74c3c"/><path d="M7.2 3.5H9.8L9.4 10H7.6Z" fill="#fff"/><rect x="7.3" y="11.2" width="2.4" height="2.4" fill="#fff"/></svg>
<div class="r" style="left:1532px;top:1001.2px;width:100px;height:38.0px;background:#e5e8ed;border-radius:4px"></div>
<div class="r" style="left:1532px;top:1001.2px;width:50px;height:38.0px;background:#4d586d;border-radius:4px;box-shadow:0 2px 5px rgba(0,0,0,0.12)"></div>
<div class="t" style="left:1457px;width:200px;text-align:center;top:1015.02px;font-size:12.5px;line-height:12.5px;color:#ffffff;font-weight:bold;font-style:normal;letter-spacing:0px;transform:scaleX(1.05);transform-origin:50% 0;">Nein</div>
<div class="t" style="left:1506px;width:200px;text-align:center;top:1015.22px;font-size:12.5px;line-height:12.5px;color:#a7afbd;font-weight:normal;font-style:normal;letter-spacing:0px;-webkit-text-stroke:0.2px #a7afbd;transform:scaleX(1.1);transform-origin:50% 0;">Ja</div>
<div class="r" style="left:97px;top:1054px;width:1705px;height:1px;background:#f0f1f4;"></div>
<div class="t" style="left:114.2px;top:1079.73px;font-size:17px;line-height:17px;color:#1b9ad6;font-weight:normal;font-style:normal;letter-spacing:0px;transform:scaleX(1.1369);transform-origin:0 0;-webkit-text-stroke:0.35px #1b9ad6;">SYSTEM MAN Texturizing Spray</div>
<svg class="r" style="left:638px;top:1076.30px" width="17.6" height="23.5" viewBox="0 0 384 512"><path fill="#d3d8e0" d="M384 121.941V128H256V0h6.059a24 24 0 0 1 16.97 7.029l97.941 97.941a24.002 24.002 0 0 1 7.03 16.971zM248 160c-13.2 0-24-10.8-24-24V0H24C10.745 0 0 10.745 0 24v464c0 13.255 10.745 24 24 24h336c13.255 0 24-10.745 24-24V160H248zm-135.455 16c26.51 0 48 21.49 48 48s-21.49 48-48 48-48-21.49-48-48 21.491-48 48-48zm208 240h-256l.485-48.485L104.545 328c4.686-4.686 11.799-4.201 16.485.485L160.545 368 264.06 264.485c4.686-4.686 12.284-4.686 16.971 0L320.545 304v112z"/></svg>
<svg class="r" style="left:673px;top:1077.40px" width="21" height="21" viewBox="0 0 21 21"><g stroke="#d3d8e0" stroke-width="2.6" stroke-linecap="round"><path d="M1.3 1.6H19.7"/><path d="M5.8 7.6H15.2"/><path d="M1.3 13.5H19.7"/><path d="M5.8 19.4H15.2"/></g></svg>
<div class="t" style="left:813px;top:1079.73px;font-size:17px;line-height:17px;color:#4a5469;font-weight:normal;font-style:normal;letter-spacing:0px;transform:scaleX(1.17);transform-origin:0 0;-webkit-text-stroke:0.35px #4a5469;">Wella</div>
<div class="t" style="left:1282px;top:1079.73px;font-size:17px;line-height:17px;color:#4a5469;font-weight:normal;font-style:normal;letter-spacing:0px;transform:scaleX(1.17);transform-origin:0 0;-webkit-text-stroke:0.35px #4a5469;">26,15 €</div>
<div class="t" style="left:1407px;top:1079.73px;font-size:17px;line-height:17px;color:#e74c3c;font-weight:normal;font-style:normal;letter-spacing:0px;transform:scaleX(1.15);transform-origin:0 0;-webkit-text-stroke:0.35px #e74c3c;">0</div>
<svg class="r" style="left:1423.5px;top:1079.60px" width="17" height="17" viewBox="0 0 17 17"><circle cx="8.5" cy="8.5" r="8.5" fill="#e74c3c"/><path d="M7.2 3.5H9.8L9.4 10H7.6Z" fill="#fff"/><rect x="7.3" y="11.2" width="2.4" height="2.4" fill="#fff"/></svg>
<div class="r" style="left:1532px;top:1068.7px;width:100px;height:38.0px;background:#e5e8ed;border-radius:4px"></div>
<div class="r" style="left:1532px;top:1068.7px;width:50px;height:38.0px;background:#4d586d;border-radius:4px;box-shadow:0 2px 5px rgba(0,0,0,0.12)"></div>
<div class="t" style="left:1457px;width:200px;text-align:center;top:1082.52px;font-size:12.5px;line-height:12.5px;color:#ffffff;font-weight:bold;font-style:normal;letter-spacing:0px;transform:scaleX(1.05);transform-origin:50% 0;">Nein</div>
<div class="t" style="left:1506px;width:200px;text-align:center;top:1082.72px;font-size:12.5px;line-height:12.5px;color:#a7afbd;font-weight:normal;font-style:normal;letter-spacing:0px;-webkit-text-stroke:0.2px #a7afbd;transform:scaleX(1.1);transform-origin:50% 0;">Ja</div>
<div class="r" style="left:97px;top:1122px;width:1705px;height:1px;background:#f0f1f4;"></div>
<div class="t" style="left:114.2px;top:1147.31px;font-size:17px;line-height:17px;color:#1b9ad6;font-weight:normal;font-style:normal;letter-spacing:0px;transform:scaleX(1.1333);transform-origin:0 0;-webkit-text-stroke:0.35px #1b9ad6;">SYSTEM MAN Sculpting Paste</div>
<svg class="r" style="left:638px;top:1143.90px" width="17.6" height="23.5" viewBox="0 0 384 512"><path fill="#2fcc71" d="M384 121.941V128H256V0h6.059a24 24 0 0 1 16.97 7.029l97.941 97.941a24.002 24.002 0 0 1 7.03 16.971zM248 160c-13.2 0-24-10.8-24-24V0H24C10.745 0 0 10.745 0 24v464c0 13.255 10.745 24 24 24h336c13.255 0 24-10.745 24-24V160H248zm-135.455 16c26.51 0 48 21.49 48 48s-21.49 48-48 48-48-21.49-48-48 21.491-48 48-48zm208 240h-256l.485-48.485L104.545 328c4.686-4.686 11.799-4.201 16.485.485L160.545 368 264.06 264.485c4.686-4.686 12.284-4.686 16.971 0L320.545 304v112z"/></svg>
<svg class="r" style="left:673px;top:1145.00px" width="21" height="21" viewBox="0 0 21 21"><g stroke="#2fcc71" stroke-width="2.6" stroke-linecap="round"><path d="M1.3 1.6H19.7"/><path d="M5.8 7.6H15.2"/><path d="M1.3 13.5H19.7"/><path d="M5.8 19.4H15.2"/></g></svg>
<div class="t" style="left:813px;top:1147.31px;font-size:17px;line-height:17px;color:#4a5469;font-weight:normal;font-style:normal;letter-spacing:0px;transform:scaleX(1.17);transform-origin:0 0;-webkit-text-stroke:0.35px #4a5469;">Wella</div>
<div class="t" style="left:1282px;top:1147.31px;font-size:17px;line-height:17px;color:#4a5469;font-weight:normal;font-style:normal;letter-spacing:0px;transform:scaleX(1.17);transform-origin:0 0;-webkit-text-stroke:0.35px #4a5469;">22,60 €</div>
<div class="t" style="left:1407px;top:1147.31px;font-size:17px;line-height:17px;color:#e74c3c;font-weight:normal;font-style:normal;letter-spacing:0px;transform:scaleX(1.15);transform-origin:0 0;-webkit-text-stroke:0.35px #e74c3c;">0</div>
<svg class="r" style="left:1423.5px;top:1147.20px" width="17" height="17" viewBox="0 0 17 17"><circle cx="8.5" cy="8.5" r="8.5" fill="#e74c3c"/><path d="M7.2 3.5H9.8L9.4 10H7.6Z" fill="#fff"/><rect x="7.3" y="11.2" width="2.4" height="2.4" fill="#fff"/></svg>
<div class="r" style="left:1532px;top:1136.2px;width:100px;height:38.0px;background:#e5e8ed;border-radius:4px"></div>
<div class="r" style="left:1532px;top:1136.2px;width:50px;height:38.0px;background:#4d586d;border-radius:4px;box-shadow:0 2px 5px rgba(0,0,0,0.12)"></div>
<div class="t" style="left:1457px;width:200px;text-align:center;top:1150.02px;font-size:12.5px;line-height:12.5px;color:#ffffff;font-weight:bold;font-style:normal;letter-spacing:0px;transform:scaleX(1.05);transform-origin:50% 0;">Nein</div>
<div class="t" style="left:1506px;width:200px;text-align:center;top:1150.22px;font-size:12.5px;line-height:12.5px;color:#a7afbd;font-weight:normal;font-style:normal;letter-spacing:0px;-webkit-text-stroke:0.2px #a7afbd;transform:scaleX(1.1);transform-origin:50% 0;">Ja</div>
<div class="r" style="left:97px;top:1189px;width:1705px;height:1px;background:#f0f1f4;"></div>
<div class="r" style="left:0px;top:1192px;width:1919px;height:11px;background:linear-gradient(rgba(0,10,30,0),rgba(0,10,30,0.045));"></div>
<div class="t" style="left:97px;top:1236.22px;font-size:21px;line-height:21px;color:#8b94a7;font-weight:normal;font-style:normal;letter-spacing:0px;transform:scaleX(1.07);transform-origin:0 0;-webkit-text-stroke:0.3px #8b94a7;">451 Artikel</div>
<div class="r" style="left:1580px;top:1221px;width:243px;height:50px;background:#03a0d6;border-radius:5px"></div>
<div class="t" style="left:1601.5px;width:200px;text-align:center;top:1237.27px;font-size:20px;line-height:20px;color:#ffffff;font-weight:bold;font-style:normal;letter-spacing:0px;transform:scaleX(1.07);transform-origin:50% 0;">Link kopieren</div>
<div class="badge" style="left:370px;top:174px"><svg style="position:absolute;left:0;top:0" width="40" height="40" viewBox="0 0 40 40"><path d="M19.6 9.8H23.1V31H19.6V13.9Q17.6 15.8 14.9 16.9V13.6Q18.2 12.2 19.6 9.8Z" fill="#fff"/></svg></div>
<div class="badge" style="left:1452px;top:174px">2</div>
<div class="badge" style="left:1740px;top:174px">3</div>
<div class="badge" style="left:427px;top:257px">4</div>
<div class="badge" style="left:730px;top:257px">5</div>
<div class="badge" style="left:1792px;top:68px">6</div>
<div class="badge" style="left:208px;top:1232px">7</div>
<div class="badge" style="left:1530px;top:1232px">8</div>
</body></html>
